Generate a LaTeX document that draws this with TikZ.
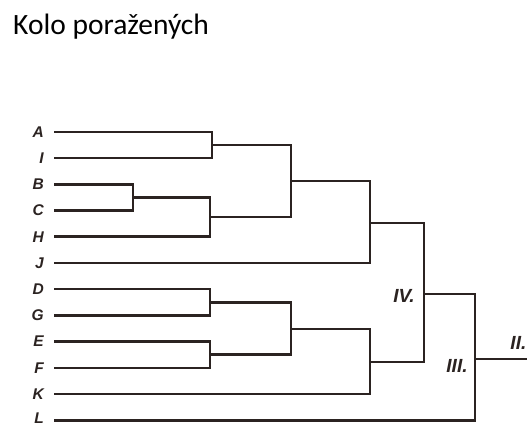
\documentclass[tikz,border=0pt]{standalone}
\usepackage{fontspec}
\setmainfont{Carlito}
\newfontfamily\lblfont{Liberation Sans}
\begin{document}
\begin{tikzpicture}[x=1pt,y=-1pt,
  br/.style={line width=2.6pt, draw=inkc, line join=miter},
  leaf/.style={anchor=east, inner sep=0pt, text=inkc, font=\lblfont\bfseries\itshape\fontsize{15.5}{15.5}\selectfont},
  roman/.style={inner sep=0pt, text=inkc, font=\lblfont\bfseries\itshape\fontsize{19}{19}\selectfont}]
\definecolor{inkc}{HTML}{2B2321}
\useasboundingbox (0,0) rectangle (527,427);
\clip (0,0) rectangle (527,427);
\node[anchor=base west, inner sep=0pt, font=\fontsize{29.5}{32}\selectfont] (title) at (13,35) {Kolo poražených};
% leaves
\foreach \n/\t/\y in {a/A/132,i/I/158.2,b/B/184.4,c/C/210.6,h/H/236.8,j/J/263,d/D/289.2,g/G/315.4,e/E/341.6,f/F/367.8,k/K/394}{
  \node[leaf] (t\n) at (44,\y) {\t};
  \coordinate (\n) at (54,\y);
}
\node[leaf] (tl) at (44,418.5) {L};
\coordinate (l) at (54,420.2);
% merge points
\coordinate (m1) at (212,145.1);
\coordinate (m2) at (133,197.5);
\coordinate (m3) at (210,217);
\coordinate (m4) at (291,181);
\coordinate (m5) at (370,223);
\coordinate (m6) at (210,302.3);
\coordinate (m7) at (210,354.7);
\coordinate (m8) at (291,329);
\coordinate (m9) at (370,362);
\coordinate (m10) at (424,294);
\coordinate (m11) at (475,359);
\coordinate (out) at (540,359);
\draw[br] (a) -| (m1) |- (i);
\draw[br] (b) -| (m2) |- (c);
\draw[br] (m2) -| (m3) |- (h);
\draw[br] (m1) -| (m4) |- (m3);
\draw[br] (m4) -| (m5) |- (j);
\draw[br] (d) -| (m6) |- (g);
\draw[br] (e) -| (m7) |- (f);
\draw[br] (m6) -| (m8) |- (m7);
\draw[br] (m8) -| (m9) |- (k);
\draw[br] (m5) -| (m10) |- (m9);
\draw[br] (m10) -| (m11) |- (l);
\draw[br] (m11) -- (out);
\node[roman] (iv) at (404,296) {IV.};
\node[roman] (iii) at (457,366) {III.};
\node[roman, anchor=east] (ii) at (526.5,343) {II.};
\end{tikzpicture}
\end{document}
